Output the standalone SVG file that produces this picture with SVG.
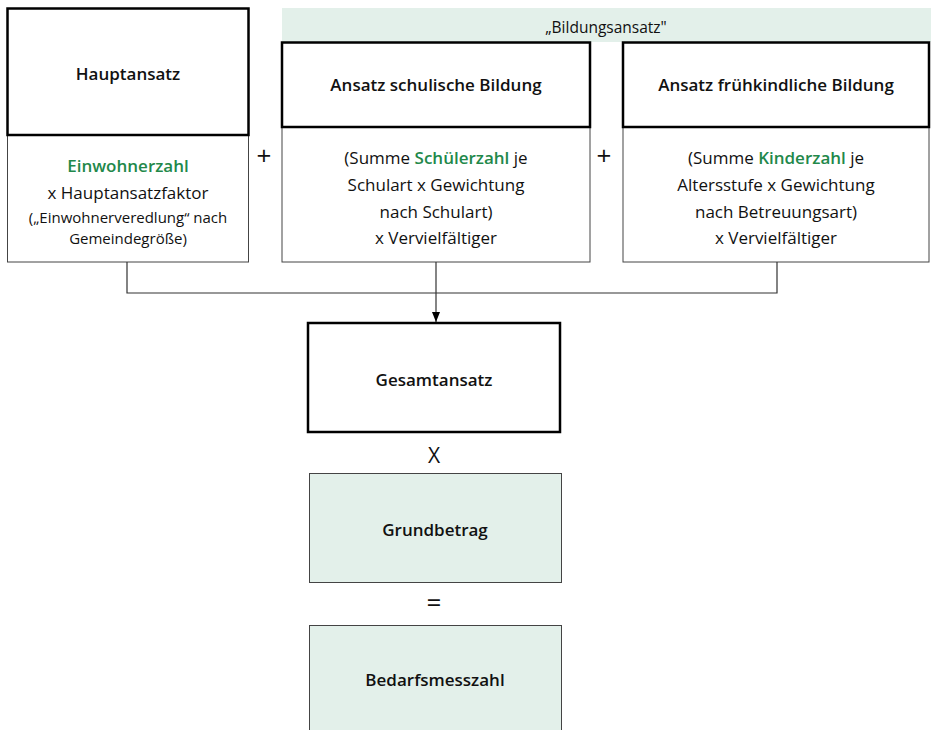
<svg xmlns="http://www.w3.org/2000/svg" width="931" height="730" viewBox="0 0 931 730">
<defs>
<marker id="arr" viewBox="0 0 10 10" refX="10" refY="5" markerWidth="10" markerHeight="10" markerUnits="userSpaceOnUse" orient="auto">
<path d="M0,1 L10,5 L0,9 Z" fill="#000"/>
</marker>
</defs>
<style>
text{font-family:"Open Sans","Liberation Sans",sans-serif;fill:#111;text-anchor:middle}
.t{font-size:17px;font-weight:600}
.b{font-size:17px}
.bl{font-size:15.5px}
.s{font-size:15px}
.g{fill:#22884a;font-weight:600}
.op{font-size:26px}
.thick{fill:#fff;stroke:#000;stroke-width:2.5}
.thin{fill:#fff;stroke:#444;stroke-width:1}
.green{fill:#e3f0ea;stroke:#444;stroke-width:1}
.conn{fill:none;stroke:#333;stroke-width:1.2}
</style>
<rect x="282" y="8" width="649" height="34" fill="#e3f0ea"/>
<text x="606" y="33" class="bl">„Bildungsansatz"</text>
<g id="hauptansatz">
<rect x="7.5" y="135" width="241" height="127" class="thin"/>
<rect x="7.5" y="8.5" width="241" height="126.5" class="thick"/>
<text x="128" y="80" class="t">Hauptansatz</text>
<text x="128" y="172" class="b g">Einwohnerzahl</text>
<text x="128" y="199" class="b">x Hauptansatzfaktor</text>
<text x="128" y="223" class="s">(„Einwohnerveredlung“ nach</text>
<text x="128" y="244" class="s">Gemeindegröße)</text>
</g>
<text x="264" y="165" class="op">+</text>
<g id="schulisch">
<rect x="282" y="127" width="308" height="135" class="thin"/>
<rect x="282" y="42.5" width="308" height="84.5" class="thick"/>
<text x="436" y="91" class="t">Ansatz schulische Bildung</text>
<text x="436" y="164" class="b">(Summe <tspan class="g">Schülerzahl</tspan> je</text>
<text x="436" y="191" class="b">Schulart x Gewichtung</text>
<text x="436" y="218" class="b">nach Schulart)</text>
<text x="436" y="244" class="b">x Vervielfältiger</text>
</g>
<text x="604" y="165" class="op">+</text>
<g id="fruehkindlich">
<rect x="623" y="127" width="306" height="135" class="thin"/>
<rect x="623" y="42.5" width="306" height="84.5" class="thick"/>
<text x="776" y="91" class="t">Ansatz frühkindliche Bildung</text>
<text x="776" y="164" class="b">(Summe <tspan class="g">Kinderzahl</tspan> je</text>
<text x="776" y="191" class="b">Altersstufe x Gewichtung</text>
<text x="776" y="218" class="b">nach Betreuungsart)</text>
<text x="776" y="244" class="b">x Vervielfältiger</text>
</g>
<g id="connectors">
<path d="M127,262 V293 H777 V262" class="conn"/>
<path d="M436,262 V322" class="conn" marker-end="url(#arr)"/>
</g>
<g id="gesamtansatz">
<rect x="308" y="323" width="252" height="109" class="thick"/>
<text x="434" y="386" class="t">Gesamtansatz</text>
</g>
<text x="434" y="463" style="font-size:21px">X</text>
<g id="grundbetrag">
<rect x="309.5" y="473.5" width="252" height="109" class="green"/>
<text x="435" y="536" class="t">Grundbetrag</text>
</g>
<text x="434" y="612" class="op">=</text>
<g id="bedarfsmesszahl">
<rect x="309.5" y="625.5" width="252" height="110" class="green"/>
<text x="435" y="686" class="t">Bedarfsmesszahl</text>
</g>
</svg>
